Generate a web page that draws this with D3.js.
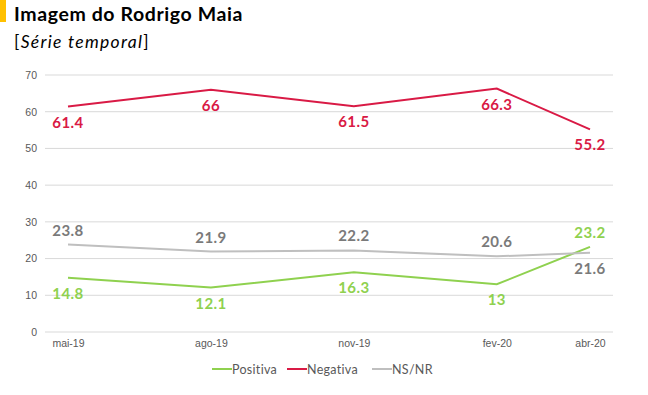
<!DOCTYPE html>
<html lang="en">
<head>
    <meta charset="UTF-8">
    <title>Imagem do Rodrigo Maia</title>
    <script src="https://d3js.org/d3.v7.min.js"></script>
    <style>
        body { margin: 0; background: #fff; font-family: "Lato", "Open Sans", sans-serif; }
        .tick text { fill: #595959; font-size: 10.5px; }
        .val { font-size: 15px; font-weight: bold; text-anchor: middle; letter-spacing: 0.4px; }
        .legend-text { font-size: 12.5px; fill: #595959; letter-spacing: 0.3px; }
    </style>
</head>
<body>
    <script>
        var months = ["2019-05", "2019-08", "2019-11", "2020-02", "2020-04"];
        var monthLabels = ["mai-19", "ago-19", "nov-19", "fev-20", "abr-20"];
        var seriesNames = ["Positiva", "Negativa", "NS/NR"];
        var positiva = [14.8, 12.1, 16.3, 13, 23.2];
        var negativa = [61.4, 66, 61.5, 66.3, 55.2];
        var nsnr = [23.8, 21.9, 22.2, 20.6, 21.6];
        var yTicks = [0, 10, 20, 30, 40, 50, 60, 70];

        var w = 648, h = 395;
        var parse = d3.timeParse("%Y-%m");
        var dates = months.map(parse);

        var series = [
            { name: seriesNames[0], values: positiva, color: "#8fd14f", labelColor: "#8fd14f",
              pos: ["below", "below", "below", "below", "above"] },
            { name: seriesNames[1], values: negativa, color: "#d91a45", labelColor: "#d91a45",
              pos: ["below", "below", "below", "below", "below"] },
            { name: seriesNames[2], values: nsnr, color: "#bfbfbf", labelColor: "#7a7a7a",
              pos: ["above", "above", "above", "above", "below"] }
        ];

        var svg = d3.select("body").append("svg")
            .attr("width", w)
            .attr("height", h);

        // title block
        svg.append("rect").attr("x", 0).attr("y", 0).attr("width", 6).attr("height", 22).attr("fill", "#ffc000");
        svg.append("text").attr("x", 14).attr("y", 21)
            .style("font-size", "19.5px").style("font-weight", "bold").style("fill", "#000")
            .style("letter-spacing", "0.6px")
            .text("Imagem do Rodrigo Maia");
        var sub = svg.append("text").attr("x", 14).attr("y", 48)
            .style("font-size", "17.5px").style("fill", "#000")
            .style("letter-spacing", "1.3px");
        sub.append("tspan").text("[");
        sub.append("tspan").style("font-style", "italic").text("Série temporal");
        sub.append("tspan").text("]");

        var xScale = d3.scaleTime()
            .domain([dates[0], dates[dates.length - 1]])
            .range([68, 590]);

        var yScale = d3.scaleLinear()
            .domain([0, 70])
            .range([332, 75]);

        // gridlines
        svg.append("g")
            .selectAll("line")
            .data(yTicks)
            .enter()
            .append("line")
            .attr("x1", 45)
            .attr("x2", 613)
            .attr("y1", function (d) { return yScale(d); })
            .attr("y2", function (d) { return yScale(d); })
            .attr("stroke", "#d9d9d9")
            .attr("stroke-width", 1);

        var yAxis = d3.axisLeft(yScale).tickValues(yTicks).tickSize(0).tickPadding(0);
        svg.append("g")
            .attr("transform", "translate(37,0)")
            .call(yAxis)
            .call(function (g) { g.select(".domain").remove(); });

        var xAxis = d3.axisBottom(xScale)
            .tickValues(dates)
            .tickSize(0)
            .tickPadding(0)
            .tickFormat(function (d, i) { return monthLabels[i]; });
        svg.append("g")
            .attr("transform", "translate(0,340)")
            .call(xAxis)
            .call(function (g) { g.select(".domain").remove(); });

        var line = d3.line()
            .x(function (d, i) { return xScale(dates[i]); })
            .y(function (d) { return yScale(d); });

        series.forEach(function (s) {
            svg.append("path")
                .datum(s.values)
                .attr("fill", "none")
                .attr("stroke", s.color)
                .attr("stroke-width", 2)
                .attr("d", line);

            svg.append("g")
                .selectAll("text")
                .data(s.values)
                .enter()
                .append("text")
                .attr("class", "val")
                .attr("x", function (d, i) { return xScale(dates[i]); })
                .attr("y", function (d, i) {
                    return s.pos[i] === "above" ? yScale(d) - 9 : yScale(d) + 21;
                })
                .style("fill", s.labelColor)
                .text(function (d) { return d; });
        });

        // legend
        var legendX = [212, 287, 372];
        var legend = svg.append("g");
        series.forEach(function (s, i) {
            legend.append("line")
                .attr("x1", legendX[i]).attr("x2", legendX[i] + 20)
                .attr("y1", 369).attr("y2", 369)
                .attr("stroke", s.color).attr("stroke-width", 2);
            legend.append("text")
                .attr("class", "legend-text")
                .attr("x", legendX[i] + 20).attr("y", 373.5)
                .text(s.name);
        });
    </script>
</body>
</html>
